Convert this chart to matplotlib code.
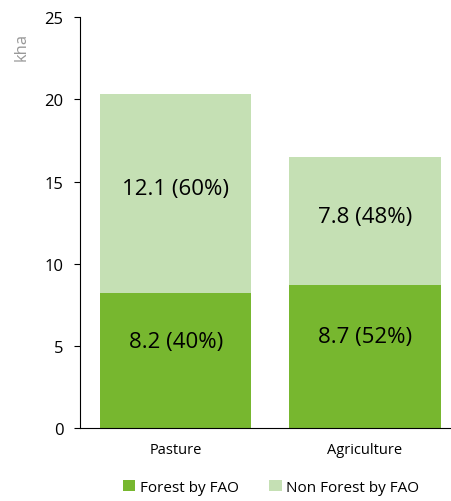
import matplotlib.pyplot as plt

categories = ['Pasture', 'Agriculture']
forest = [8.2, 8.7]
non_forest = [12.1, 7.8]
forest_labels = ['8.2 (40%)', '8.7 (52%)']
non_forest_labels = ['12.1 (60%)', '7.8 (48%)']

plt.rcParams['font.family'] = ['Open Sans', 'DejaVu Sans']

fig = plt.figure(figsize=(4.52, 5.02), dpi=100)
ax = fig.add_axes([0.177, 0.145, 0.823, 0.819])

x = range(len(categories))
b1 = ax.bar(x, forest, width=0.8, color='#77b72f', label='Forest by FAO')
b2 = ax.bar(x, non_forest, width=0.8, bottom=forest, color='#c5e0b4', label='Non Forest by FAO')

for i in x:
    ax.text(i, forest[i] / 2 + 1.2, forest_labels[i], ha='center', va='center', fontsize=16, color='black')
    ax.text(i, forest[i] + non_forest[i] / 2 + 0.3, non_forest_labels[i], ha='center', va='center', fontsize=16, color='black')

ax.set_ylim(0, 25)
ax.set_xlim(-0.506, 1.46)
ax.set_yticks([0, 5, 10, 15, 20, 25])
ax.set_xticks(list(x))
ax.set_xticklabels(categories, fontsize=10.5)
ax.tick_params(axis='y', labelsize=12, length=4, direction='out', pad=8)
ax.tick_params(axis='x', length=0, pad=10)
ax.spines['top'].set_visible(False)
ax.spines['right'].set_visible(False)
ax.set_ylabel('kha', color='#999999', fontsize=12, rotation=90)
ax.yaxis.set_label_coords(-0.135, 0.93)

fig.legend(handles=[b1, b2], loc='lower center', bbox_to_anchor=(0.6, -0.015), ncol=2,
           frameon=False, fontsize=11, handlelength=0.8, handleheight=0.8, handletextpad=0.3,
           columnspacing=2.0)

fig.savefig('out.png', dpi=100)
